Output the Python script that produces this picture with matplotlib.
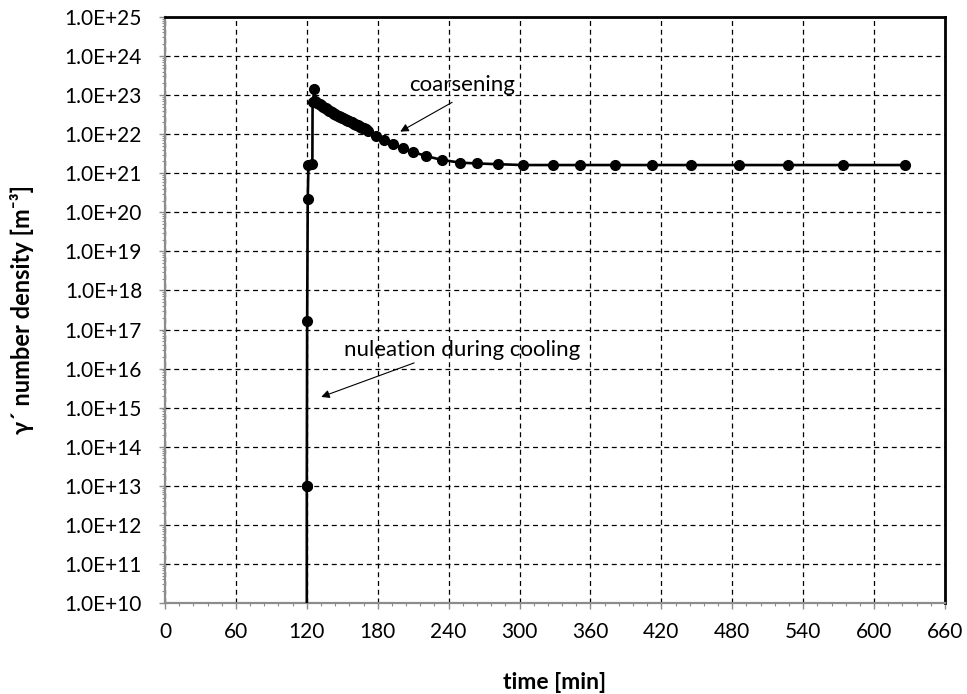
import numpy as np
import matplotlib
matplotlib.use("Agg")
import matplotlib.pyplot as plt
from matplotlib.ticker import FuncFormatter, MultipleLocator, LogLocator, NullFormatter

plt.rcParams['font.family'] = ['Lato', 'DejaVu Sans']

# time [min] and gamma' number density [m^-3]
time_min = [120.0, 120.0, 120.0, 120.3, 120.8, 121.4, 124.7, 124.9, 126.5, 127.0,
            128, 129, 130, 131, 132, 133, 134, 135, 136, 137, 138, 139, 140, 141,
            142, 143, 144, 145, 146, 147, 148, 149, 150, 151, 152, 153, 154, 155,
            156, 157, 158, 159, 160, 161, 162, 163, 164, 165, 166, 167, 168, 169, 170,
            172, 178.6, 185.6, 193, 201, 210, 221, 234, 250, 264, 282, 303, 328,
            351, 381, 412, 445, 486, 527, 574, 626]
density = [1e5, 1.0e13, 1.0e13, 1.7e17, 2.2e20, 1.6e21, 1.7e21, 6.5e22, 1.4e23, 7.2e22,
           6.6e22, 6.3e22, 6.0e22, 5.75e22, 5.5e22, 5.25e22, 5.0e22, 4.8e22, 4.6e22,
           4.4e22, 4.2e22, 4.0e22, 3.8e22, 3.65e22, 3.5e22, 3.35e22, 3.2e22, 3.1e22,
           3.0e22, 2.9e22, 2.8e22, 2.7e22, 2.6e22, 2.52e22, 2.45e22, 2.37e22, 2.3e22,
           2.22e22, 2.15e22, 2.07e22, 2.0e22, 1.93e22, 1.86e22, 1.8e22, 1.74e22,
           1.68e22, 1.62e22, 1.56e22, 1.51e22, 1.46e22, 1.41e22, 1.36e22, 1.32e22,
           1.2e22, 8.9e21, 7.1e21, 5.5e21, 4.5e21, 3.5e21, 2.75e21, 2.2e21, 1.86e21,
           1.78e21, 1.7e21, 1.62e21, 1.62e21, 1.62e21, 1.62e21, 1.62e21, 1.62e21,
           1.62e21, 1.62e21, 1.62e21, 1.62e21]

x_ticks = list(range(0, 661, 60))

fig = plt.figure(figsize=(9.67, 6.94), dpi=100)
ax = fig.add_axes([0.1706, 0.1311, 0.8067, 0.8445])

ax.plot(time_min, density, '-', color='black', lw=1.9, marker='o', ms=7,
        mfc='black', mec='black', zorder=3)

ax.set_yscale('log')
ax.set_xlim(0, 660)
ax.set_ylim(1e10, 1e25)
ax.set_xticks(x_ticks)
ax.xaxis.set_minor_locator(MultipleLocator(12))
ax.yaxis.set_major_locator(LogLocator(base=10, numticks=30))
ax.yaxis.set_minor_locator(LogLocator(base=10, subs=np.arange(2, 10), numticks=30))
ax.yaxis.set_minor_formatter(NullFormatter())
ax.yaxis.set_major_formatter(FuncFormatter(lambda v, p: f"{v:.1E}"))

ax.grid(True, which='major', color='black', linestyle=(0, (4, 3)), lw=0.9)

for s in ['left', 'bottom']:
    ax.spines[s].set_color('#8c8c8c')
    ax.spines[s].set_linewidth(1.6)
for s in ['top', 'right']:
    ax.spines[s].set_color('black')
    ax.spines[s].set_linewidth(2)

ax.tick_params(which='major', direction='out', length=4.5, width=1, color='#8c8c8c',
               labelsize=15)
ax.tick_params(which='minor', direction='out', length=2.5, width=0.8, color='#8c8c8c')
ax.tick_params(axis='y', which='major', pad=12)
ax.tick_params(axis='x', which='major', pad=9)

ax.set_xlabel('time [min]', fontsize=16.5, fontweight='bold')
ax.set_ylabel('γ´ number density [m⁻³]', fontsize=17, fontweight='bold')
ax.xaxis.set_label_coords(0.5, -0.117)
ax.yaxis.set_label_coords(-0.183, 0.5)
ax.yaxis.label.set_va('center')

ax.annotate('', xy=(197, 10**22.03), xytext=(245, 10**22.85),
            arrowprops=dict(arrowstyle='-|>', color='black', lw=0.8, mutation_scale=12))
ax.text(251, 10**23.26, 'coarsening', fontsize=16, ha='center', va='center')

ax.annotate('', xy=(130, 10**15.25), xytext=(213, 10**16.17),
            arrowprops=dict(arrowstyle='-|>', color='black', lw=0.8, mutation_scale=12))
ax.text(251, 10**16.48, 'nuleation during cooling', fontsize=16, ha='center', va='center')

fig.savefig('out.png', dpi=100)
